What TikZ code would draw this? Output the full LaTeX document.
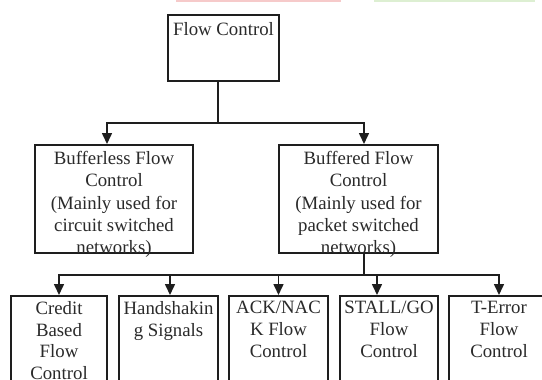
\documentclass[tikz,border=0pt]{standalone}
\usepackage{fontspec}
\setmainfont{Liberation Serif}
\usetikzlibrary{arrows.meta}
\definecolor{ink}{HTML}{1E1E1E}
\definecolor{txtink}{HTML}{2A2A2A}
\definecolor{topred}{HTML}{F6CACA}
\definecolor{topgreen}{HTML}{DDEFD2}
\begin{document}
\begin{tikzpicture}[x=1pt,y=-1pt,
  box/.style={draw=ink, line width=2pt, rectangle, inner sep=0pt, fill=white},
  txt/.style={font=\fontsize{18.8}{22.3}\selectfont, align=center, inner sep=0pt, anchor=north, text=txtink},
  txtb/.style={txt, font=\fontsize{18.8}{21.8}\selectfont},
  link/.style={draw=ink, line width=1.6pt},
  arr/.style={link, -{Triangle[length=11pt,width=10pt]}}]
\useasboundingbox (0,0) rectangle (542,380);
\clip (0,0) rectangle (542,380);
\fill[topred] (176,0) rectangle (341,1.6);
\fill[topgreen] (374,0) rectangle (535,1.6);

% boxes
\node[box, minimum width=111pt, minimum height=66pt] (fc) at (223.5,48) {};
\node[box, minimum width=158pt, minimum height=108pt] (bl) at (114,199) {};
\node[box, minimum width=159pt, minimum height=108pt] (bf) at (358.5,199) {};
\node[box, minimum width=96pt, minimum height=120pt] (c1) at (59,356) {};
\node[box, minimum width=99pt, minimum height=120pt] (c2) at (168.5,356) {};
\node[box, minimum width=99pt, minimum height=120pt] (c3) at (278.5,356) {};
\node[box, minimum width=98pt, minimum height=120pt] (c4) at (389,356) {};
\node[box, minimum width=100pt, minimum height=120pt] (c5) at (499,356) {};

% texts
\node[txt] (fct) at (223.5,22.6) {Flow Control};
\node[txt] (blt) at (114,151.1) {Bufferless Flow\\Control\\(Mainly used for\\circuit switched\\networks)};
\node[txt] (bft) at (358.5,151.1) {Buffered Flow\\Control\\(Mainly used for\\packet switched\\networks)};
\node[txtb] (c1t) at (59,301.1) {Credit\\Based\\Flow\\Control};
\node[txtb] (c2t) at (168.5,301.1) {Handshakin\\g Signals};
\node[txtb] (c3t) at (278.5,301.1) {ACK/NAC\\K Flow\\Control};
\node[txtb] (c4t) at (389,301.1) {STALL/GO\\Flow\\Control};
\node[txtb] (c5t) at (499,301.1) {T-Error\\Flow\\Control};

% connectors
\coordinate (j1) at (218,123);
\draw[link] (fc.south -| j1) -- (j1);
\draw[arr] (j1) -| ([xshift=-7pt]bl.north);
\draw[arr] (j1) -| ([xshift=5.5pt]bf.north);

\coordinate (j2) at (364,275);
\draw[link] (bf.south -| j2) -- (j2);
\draw[arr] (j2) -| (c1.north);
\draw[arr] (j2) -| ([xshift=1.5pt]c2.north);
\draw[arr] (j2) -| (c3.north);
\draw[arr] (j2) -| ([xshift=-12pt]c4.north);
\draw[arr] (j2) -| (c5.north);
\end{tikzpicture}
\end{document}
